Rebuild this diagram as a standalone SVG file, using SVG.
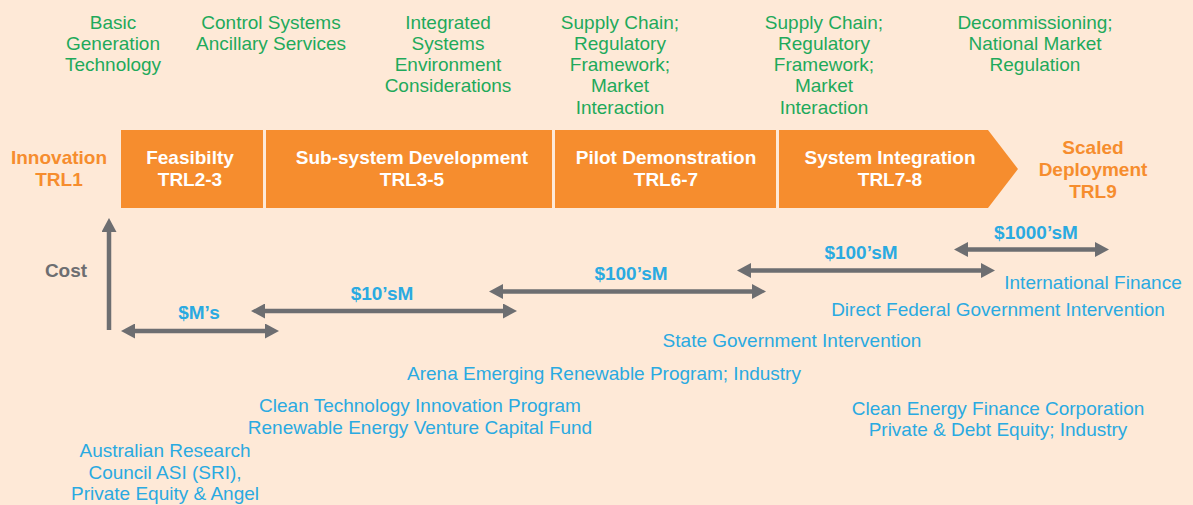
<svg xmlns="http://www.w3.org/2000/svg" width="1193" height="505" viewBox="0 0 1193 505">
  <style>
    text { font-family: "Liberation Sans", Arial, Helvetica, sans-serif; font-size: 19px; text-anchor: middle; }
    .issue { fill: #1FA95B; }
    .fund { fill: #2AAAE1; }
    .stage { fill: #FFFFFF; font-weight: bold; }
    .end { fill: #F68D2E; font-weight: bold; }
    .cost { fill: #6D6E71; font-weight: bold; }
    .amount { fill: #2AAAE1; font-weight: bold; }
    .box { fill: #F68D2E; }
    .span { stroke: #6D6E71; stroke-width: 4.5; fill: none; }
  </style>
  <defs>
    <marker id="head" viewBox="0 0 14 15" markerWidth="14" markerHeight="15" refX="4" refY="7.5" markerUnits="userSpaceOnUse" orient="auto-start-reverse">
      <path d="M0,0 L14,7.5 L0,15 Z" fill="#6D6E71"/>
    </marker>
  </defs>

  <rect width="1193" height="505" fill="#FEE9D7"/>

  <!-- considerations above each stage -->
  <g id="issues-basic">
    <text class="issue" x="113" y="28.5">Basic</text>
    <text class="issue" x="113" y="49.8">Generation</text>
    <text class="issue" x="113" y="71.1">Technology</text>
  </g>
  <g id="issues-control">
    <text class="issue" x="271" y="28.5">Control Systems</text>
    <text class="issue" x="271" y="49.8">Ancillary Services</text>
  </g>
  <g id="issues-integrated">
    <text class="issue" x="448" y="28.5">Integrated</text>
    <text class="issue" x="448" y="49.8">Systems</text>
    <text class="issue" x="448" y="71.1">Environment</text>
    <text class="issue" x="448" y="92.4">Considerations</text>
  </g>
  <g id="issues-supply-pilot">
    <text class="issue" x="620" y="28.5">Supply Chain;</text>
    <text class="issue" x="620" y="49.8">Regulatory</text>
    <text class="issue" x="620" y="71.1">Framework;</text>
    <text class="issue" x="620" y="92.4">Market</text>
    <text class="issue" x="620" y="113.7">Interaction</text>
  </g>
  <g id="issues-supply-integration">
    <text class="issue" x="824" y="28.5">Supply Chain;</text>
    <text class="issue" x="824" y="49.8">Regulatory</text>
    <text class="issue" x="824" y="71.1">Framework;</text>
    <text class="issue" x="824" y="92.4">Market</text>
    <text class="issue" x="824" y="113.7">Interaction</text>
  </g>
  <g id="issues-decommissioning">
    <text class="issue" x="1035" y="28.5">Decommissioning;</text>
    <text class="issue" x="1035" y="49.8">National Market</text>
    <text class="issue" x="1035" y="71.1">Regulation</text>
  </g>

  <!-- TRL stage band -->
  <g id="stage-innovation">
    <text class="end" x="59" y="164">Innovation</text>
    <text class="end" x="59" y="186">TRL1</text>
  </g>
  <g id="stage-feasibility">
    <rect class="box" x="121" y="130" width="142" height="78"/>
    <text class="stage" x="190" y="164">Feasibilty</text>
    <text class="stage" x="190" y="186">TRL2-3</text>
  </g>
  <g id="stage-subsystem">
    <rect class="box" x="266" y="130" width="286" height="78"/>
    <text class="stage" x="412" y="164">Sub-system Development</text>
    <text class="stage" x="412" y="186">TRL3-5</text>
  </g>
  <g id="stage-pilot">
    <rect class="box" x="555" y="130" width="221" height="78"/>
    <text class="stage" x="666" y="164">Pilot Demonstration</text>
    <text class="stage" x="666" y="186">TRL6-7</text>
  </g>
  <g id="stage-integration">
    <path class="box" d="M779,130 L988,130 L1018,169 L988,208 L779,208 Z"/>
    <text class="stage" x="890" y="164">System Integration</text>
    <text class="stage" x="890" y="186">TRL7-8</text>
  </g>
  <g id="stage-deployment">
    <text class="end" x="1093" y="154">Scaled</text>
    <text class="end" x="1093" y="176">Deployment</text>
    <text class="end" x="1093" y="198">TRL9</text>
  </g>

  <!-- cost axis label -->
  <g id="cost-label">
    <text class="cost" x="66" y="277">Cost</text>
  </g>

  <!-- cost ranges -->
  <g id="connectors">
    <path class="span" d="M109,330 L109,228" marker-end="url(#head)"/>
    <path class="span" d="M131,331 L269,331" marker-start="url(#head)" marker-end="url(#head)"/>
    <path class="span" d="M261,311 L507,311" marker-start="url(#head)" marker-end="url(#head)"/>
    <path class="span" d="M499,291.5 L756,291.5" marker-start="url(#head)" marker-end="url(#head)"/>
    <path class="span" d="M747,270.5 L985,270.5" marker-start="url(#head)" marker-end="url(#head)"/>
    <path class="span" d="M964,249.5 L1099,249.5" marker-start="url(#head)" marker-end="url(#head)"/>
  </g>

  <g id="amount-millions"><text class="amount" x="199" y="318.5">$M’s</text></g>
  <g id="amount-tens"><text class="amount" x="382" y="299.5">$10’sM</text></g>
  <g id="amount-hundreds-pilot"><text class="amount" x="631" y="279.5">$100’sM</text></g>
  <g id="amount-hundreds-integration"><text class="amount" x="861" y="259">$100’sM</text></g>
  <g id="amount-thousands"><text class="amount" x="1036" y="239">$1000’sM</text></g>

  <!-- funding sources -->
  <g id="fund-international"><text class="fund" x="1093" y="288.5">International Finance</text></g>
  <g id="fund-federal"><text class="fund" x="998" y="315.5">Direct Federal Government Intervention</text></g>
  <g id="fund-state"><text class="fund" x="792" y="347">State Government Intervention</text></g>
  <g id="fund-arena"><text class="fund" x="604" y="380">Arena Emerging Renewable Program; Industry</text></g>
  <g id="fund-clean-tech">
    <text class="fund" x="420" y="412">Clean Technology Innovation Program</text>
    <text class="fund" x="420" y="433.5">Renewable Energy Venture Capital Fund</text>
  </g>
  <g id="fund-cefc">
    <text class="fund" x="998" y="415">Clean Energy Finance Corporation</text>
    <text class="fund" x="998" y="436">Private &amp; Debt Equity; Industry</text>
  </g>
  <g id="fund-research">
    <text class="fund" x="165" y="457">Australian Research</text>
    <text class="fund" x="165" y="478.5">Council ASI (SRI),</text>
    <text class="fund" x="165" y="500">Private Equity &amp; Angel</text>
  </g>
</svg>
